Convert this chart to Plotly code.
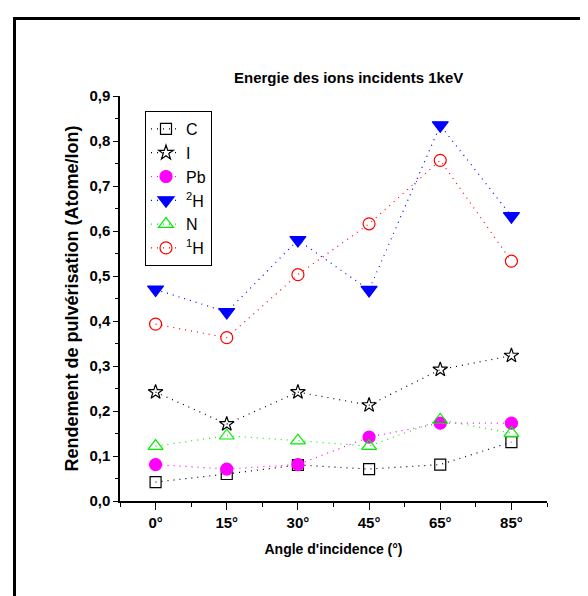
import plotly.graph_objects as go

angles = ["0°", "15°", "30°", "45°", "65°", "85°"]
x_pos = [0, 1, 2, 3, 4, 5]

C_vals = [0.042, 0.060, 0.080, 0.071, 0.081, 0.131]
I_vals = [0.242, 0.171, 0.242, 0.213, 0.292, 0.323]
Pb_vals = [0.081, 0.071, 0.081, 0.142, 0.173, 0.173]
H2_vals = [0.470, 0.420, 0.580, 0.469, 0.835, 0.633]
N_vals = [0.122, 0.145, 0.134, 0.122, 0.180, 0.151]
H1_vals = [0.393, 0.363, 0.503, 0.616, 0.757, 0.533]

series = [
    ("C", C_vals, "#000000", "square-open", 11),
    ("I", I_vals, "#000000", "star-open", 11),
    ("Pb", Pb_vals, "#ff00ff", "circle", 12),
    ("<sup>2</sup>H", H2_vals, "#0000ff", "triangle-down", 14),
    ("N", N_vals, "#00ee00", "triangle-up-open", 13),
    ("<sup>1</sup>H", H1_vals, "#ff0000", "circle-open", 12),
]

FONT = "Liberation Sans Narrow, Arial Narrow, Liberation Sans, Arial, sans-serif"

fig = go.Figure()
for name, vals, col, sym, size in series:
    fig.add_trace(go.Scatter(
        x=x_pos, y=vals, name=name, mode="lines+markers",
        line=dict(color=col, width=1.2, dash="1px,5px"),
        marker=dict(symbol=sym, size=size, color=col, line=dict(color=col, width=1.2)),
    ))

W, H = 588, 596
L, R, T, B = 112, 49, 88, 103
pw, ph = W - L - R, H - T - B

def px_x(p):
    return (p - L) / pw

def px_y(p):
    return (H - B - p) / ph

fig.update_layout(
    width=W, height=H,
    margin=dict(l=L, r=R, t=T, b=B, autoexpand=False),
    paper_bgcolor="white", plot_bgcolor="white",
    separators=",.",
    font=dict(family=FONT, color="black"),
    showlegend=True,
    legend=dict(
        x=px_x(137), y=px_y(103), xanchor="left", yanchor="top",
        bordercolor="black", borderwidth=1, bgcolor="white",
        font=dict(size=16, color="black", family=FONT),
        tracegroupgap=0, itemwidth=30,
    ),
    xaxis=dict(
        range=[-0.5, 5.5], tickvals=x_pos, ticktext=angles,
        showline=True, linecolor="black", linewidth=1.5,
        ticks="outside", ticklen=7, tickwidth=1.3, tickcolor="black",
        minor=dict(tickvals=[-0.5, 0.5, 1.5, 2.5, 3.5, 4.5, 5.5], ticks="outside",
                   ticklen=4, tickwidth=1.3, tickcolor="black"),
        showgrid=False, zeroline=False, automargin=False,
        tickfont=dict(size=15, weight="bold"),
        title=dict(text="<b>Angle d'incidence (°)</b>", font=dict(size=14), standoff=14),
    ),
    yaxis=dict(
        range=[0, 0.9], dtick=0.1, tick0=0, tickformat=".1f",
        showline=True, linecolor="black", linewidth=1.5,
        ticks="outside", ticklen=5, tickwidth=1.3, tickcolor="black",
        minor=dict(dtick=0.05, ticks="outside", ticklen=3, tickwidth=1.3, tickcolor="black"),
        showgrid=False, zeroline=False, automargin=False,
        tickfont=dict(size=15, weight="bold"),
        title=dict(text="<b>Rendement de pulvérisation (Atome/Ion)</b>", font=dict(size=18), standoff=6),
    ),
    annotations=[dict(
        text="<b>Energie des ions incidents 1keV</b>", x=px_x(340), y=px_y(70),
        xref="paper", yref="paper", xanchor="center", yanchor="middle",
        showarrow=False, font=dict(size=15, color="black"),
    )],
    shapes=[
        dict(type="line", xref="paper", yref="paper", x0=px_x(6.5), x1=px_x(6.5),
             y0=px_y(10), y1=px_y(600), line=dict(color="black", width=3)),
        dict(type="line", xref="paper", yref="paper", x0=px_x(5), x1=px_x(600),
             y0=px_y(10.5), y1=px_y(10.5), line=dict(color="black", width=3)),
    ],
)

fig.write_html("out.html")
